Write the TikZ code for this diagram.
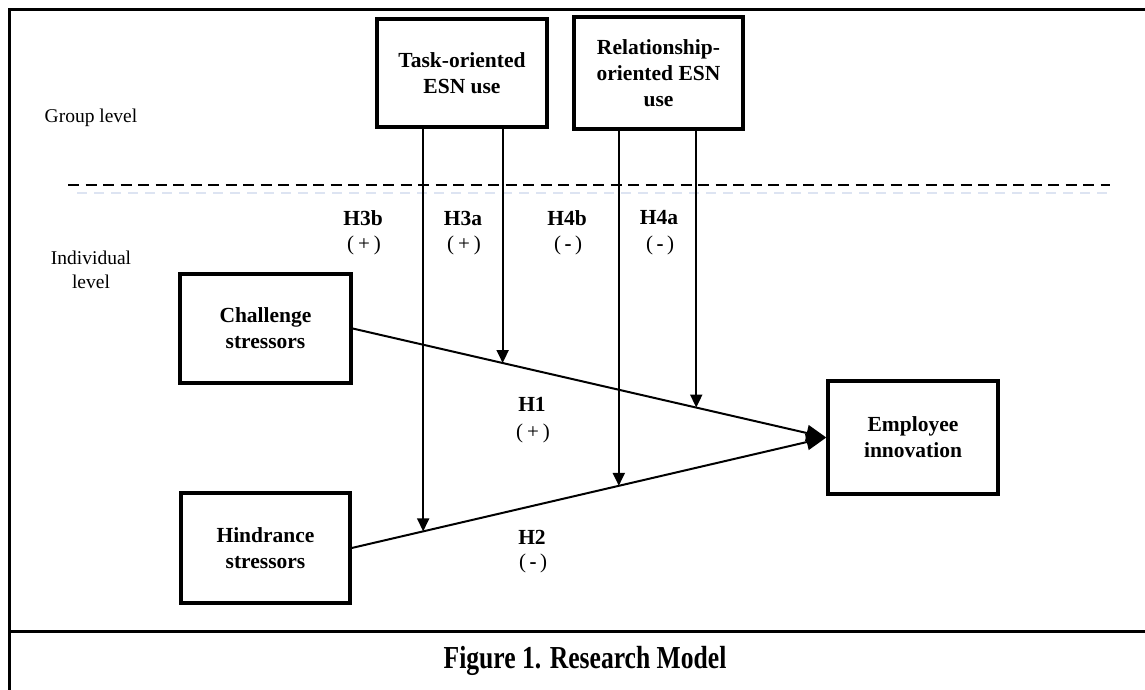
\documentclass[tikz,border=0pt]{standalone}
\usepackage{fontspec}
\setmainfont{Liberation Serif}
\usetikzlibrary{arrows.meta,calc}
\newcommand{\plusp}{(\hspace{4pt}+\hspace{4pt})}
\newcommand{\minusp}{(\hspace{3.5pt}\textbf{-}\hspace{3.5pt})}
\begin{document}
\begin{tikzpicture}[x=1pt,y=-1pt,
  box/.style={draw,line width=3.4pt,minimum width=#1,align=center,font=\bfseries\fontsize{21.5}{26}\selectfont,inner sep=0pt},
  lvl/.style={font=\fontsize{19.5}{23.5}\selectfont,align=center,inner sep=0pt},
  hlab/.style={font=\bfseries\fontsize{21.5}{26}\selectfont,inner sep=0pt},
  sgn/.style={font=\fontsize{21}{24}\selectfont,inner sep=0pt},
  conn/.style={line width=2pt},
  vtip/.style={-{Triangle[length=13pt,width=12pt]}},
  mtip/.style={-{Triangle[length=20pt,width=16pt]}}]
\useasboundingbox (0,0) rectangle (1145,690);
% frame
\draw[line width=3pt] (9,690) -- (9,10) -- (1145,10);
\draw[line width=3pt] (9,631) -- (1145,631);
% dashed level separator
\draw[line width=1.6pt,dash pattern=on 11pt off 6.5pt] (68,185) -- (1110,185);
\draw[line width=1.6pt,color={rgb,255:red,221;green,228;blue,242},dash pattern=on 10pt off 7pt] (77,193) -- (1110,193);
% level labels
\node[lvl] (grp) at (91,118) {Group level};
\node[lvl] (ind) at (91,270) {Individual\\level};
% boxes
\node[box=170pt,minimum height=108pt] (task) at (462,73) {Task-oriented\\ESN use};
\node[box=169pt,minimum height=112pt] (rel) at (658.5,73) {Relationship-\\oriented ESN\\use};
\node[box=171pt,minimum height=109pt] (ch) at (265.5,328.5) {Challenge\\stressors};
\node[box=169pt,minimum height=110pt] (hi) at (265.5,548) {Hindrance\\stressors};
\node[box=170pt,minimum height=113pt] (emp) at (913,437.5) {Employee\\innovation};
% main paths
\draw[conn,mtip] (ch.east) -- (emp.west);
\draw[conn,mtip] (hi.east) -- (emp.west);
\path (ch.east) -- (emp.west) coordinate[pos=0.3166] (m1) coordinate[pos=0.7254] (m2);
\path (hi.east) -- (emp.west) coordinate[pos=0.1506] (m3) coordinate[pos=0.5628] (m4);
% moderating arrows
\draw[conn,vtip] (task.south -| m3) -- (m3);
\draw[conn,vtip] (task.south -| m1) -- (m1);
\draw[conn,vtip] (rel.south -| m4) -- (m4);
\draw[conn,vtip] (rel.south -| m2) -- (m2);
% hypothesis labels
\node[hlab] (h3b) at (363,218) {H3b};
\node[sgn] (s3b) at (364,245) {\plusp};
\node[hlab] (h3a) at (463,218) {H3a};
\node[sgn] (s3a) at (464,245) {\plusp};
\node[hlab] (h4b) at (567,218) {H4b};
\node[sgn] (s4b) at (568,245) {\minusp};
\node[hlab] (h4a) at (659,218) {H4a};
\node[sgn] (s4a) at (660,245) {\minusp};
\node[hlab] (h1) at (532,404) {H1};
\node[sgn] (s1) at (533,433) {\plusp};
\node[hlab] (h2) at (532,537) {H2};
\node[sgn] (s2) at (533,563) {\minusp};
% caption
\node[font=\bfseries\fontsize{32}{36}\selectfont,inner sep=0pt,xscale=0.8] (cap) at (585,661) {Figure 1. Research Model};
\end{tikzpicture}
\end{document}
